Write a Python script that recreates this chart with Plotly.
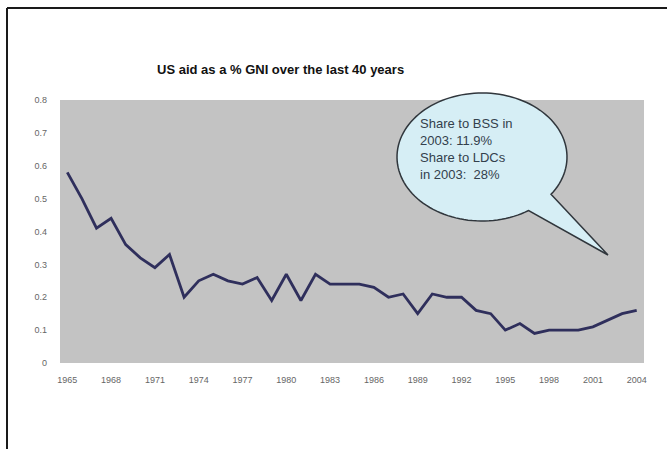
import numpy as np
import plotly.graph_objects as go

years = list(range(1965, 2005))
aid_pct_gni = [0.58, 0.50, 0.41, 0.44, 0.36, 0.32, 0.29, 0.33, 0.20, 0.25,
               0.27, 0.25, 0.24, 0.26, 0.19, 0.27, 0.19, 0.27, 0.24, 0.24,
               0.24, 0.23, 0.20, 0.21, 0.15, 0.21, 0.20, 0.20, 0.16, 0.15,
               0.10, 0.12, 0.09, 0.10, 0.10, 0.10, 0.11, 0.13, 0.15, 0.16]
x_tick_years = list(range(1965, 2005, 3))
y_ticks = [0, 0.1, 0.2, 0.3, 0.4, 0.5, 0.6, 0.7, 0.8]
y_tick_labels = ["0", "0.1", "0.2", "0.3", "0.4", "0.5", "0.6", "0.7", "0.8"]
title_text = "US aid as a % GNI over the last 40 years"
callout_text = "Share to BSS in<br>2003: 11.9%<br>Share to LDCs<br>in 2003:  28%"

W, H = 667, 449
L, R, T, B = 60, 23, 100, 86
PW, PH = W - L - R, H - T - B


def px(x):
    return (x - L) / PW


def py(y):
    return (H - B - y) / PH


fig = go.Figure()
fig.add_trace(go.Scatter(
    x=years, y=aid_pct_gni, mode="lines",
    line=dict(color="#2f2f5c", width=2.8),
    hoverinfo="skip", showlegend=False))

# speech bubble outline (ellipse + tail) as a single path
cx, cy, rx, ry = 482, 157, 85, 64
a0, a1 = np.deg2rad(56.7), np.deg2rad(35.7 + 360)
angs = np.linspace(a0, a1, 120)
pts = [(cx + rx * np.cos(a), cy + ry * np.sin(a)) for a in angs]
pts.append((608, 255))
path = "M " + " L ".join(f"{px(x):.5f},{py(y):.5f}" for x, y in pts) + " Z"

shapes = [
    dict(type="path", xref="paper", yref="paper", path=path,
         fillcolor="#d6eef5", line=dict(color="#30363c", width=1.5), layer="above"),
    # slide frame (left and top edges)
    dict(type="line", xref="paper", yref="paper",
         x0=px(7), y0=py(449), x1=px(7), y1=py(8),
         line=dict(color="#1a1a1a", width=2)),
    dict(type="line", xref="paper", yref="paper",
         x0=px(7), y0=py(8), x1=px(667), y1=py(8),
         line=dict(color="#1a1a1a", width=2)),
]

annotations = [
    dict(text="<b>" + title_text + "</b>", xref="paper", yref="paper",
         x=px(280), y=py(70), xanchor="center", yanchor="middle", showarrow=False,
         font=dict(family="Liberation Sans, Arial", size=13, color="#111111")),
    dict(text=callout_text, xref="paper", yref="paper",
         x=px(418), y=py(114), xanchor="left", yanchor="top", align="left",
         showarrow=False,
         font=dict(family="Liberation Sans, Arial", size=13, color="#33404c")),
]

fig.update_layout(
    width=W, height=H,
    margin=dict(l=L, r=R, t=T, b=B, pad=0),
    paper_bgcolor="white", plot_bgcolor="#c3c3c3",
    shapes=shapes, annotations=annotations,
    xaxis=dict(range=[1964.5, 2004.5], tickvals=x_tick_years,
               showgrid=False, zeroline=False, showline=False, ticks="",
               ticklabelstandoff=10,
               tickfont=dict(family="Liberation Sans Narrow, Liberation Sans", size=9, color="#666666")),
    yaxis=dict(range=[0, 0.8], tickvals=y_ticks, ticktext=y_tick_labels,
               showgrid=False, zeroline=False, showline=False, ticks="",
               ticklabelstandoff=12,
               tickfont=dict(family="Liberation Sans Narrow, Liberation Sans", size=9, color="#666666")),
)

fig.write_html("out.html")
